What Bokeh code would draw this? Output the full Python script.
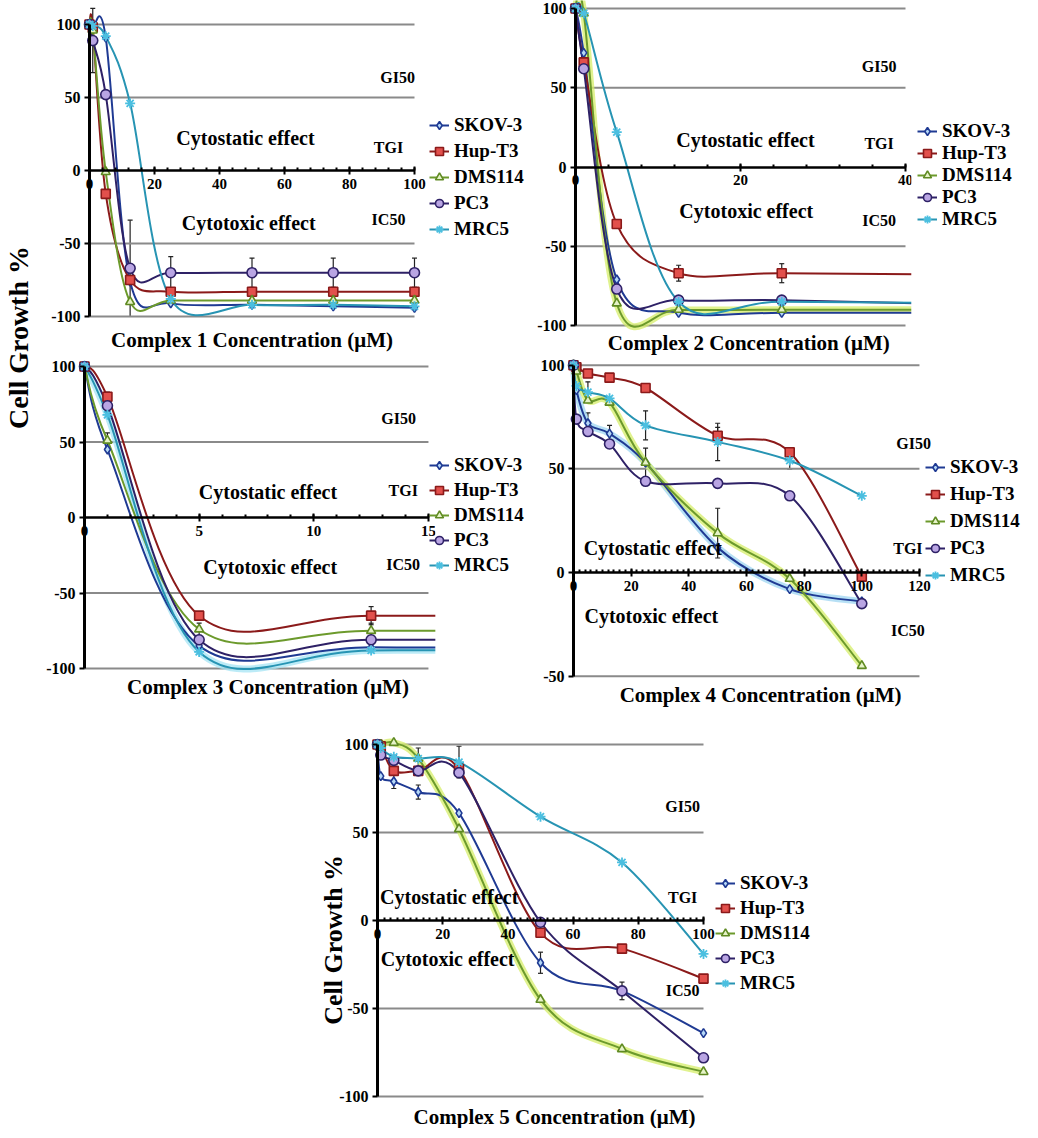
import numpy as np
from bokeh.plotting import figure
from bokeh.models import (Range1d, Label, Legend, LegendItem, SingleIntervalTicker,
                          FixedTicker, Whisker, TeeHead, ColumnDataSource, Spacer, BoxAnnotation)
from bokeh.layouts import row, column
from bokeh.embed import file_html
from bokeh.resources import INLINE

FONT = "Liberation Serif"

# ---------------- data ----------------
conc = [0, 1, 5, 12.5, 25, 50, 75, 100]
series_names = ["SKOV-3", "Hup-T3", "DMS114", "PC3", "MRC5"]

# Complex 1
c1_skov3 = [100, 98, 91, -76, -91, -92, -93, -94]
c1_hupt3 = [100, 98, -16, -75, -83, -83, -83, -83]
c1_dms114 = [100, 96, -1, -90, -89, -89, -89, -89]
c1_pc3 = [100, 89, 52, -67, -70, -70, -70, -70]
c1_mrc5 = [100, 99, 92, 46, -88, -92, -92, -93]
c1_pc3_err = [0, 22, 0, 33, 11, 10, 10, 10]

# Complex 2
c2_skov3 = [100, 72, -71, -92, -92, -92, -92, -92]
c2_hupt3 = [100, 66, -36, -67, -67, -68, -68, -68]
c2_dms114 = [100, 97, -86, -90, -90, -90, -90, -90]
c2_pc3 = [100, 62, -77, -84, -84, -87, -88, -88]
c2_mrc5 = [100, 97, 22, -85, -85, -86, -87, -87]
c2_hupt3_err = [0, 0, 0, 5, 6, 0, 0, 0]

# Complex 3
c3_skov3 = [100, 45, -85, -86, -86, -86, -86, -86]
c3_hupt3 = [100, 80, -65, -65, -65, -65, -65, -65]
c3_dms114 = [100, 51, -74, -75, -75, -75, -75, -75]
c3_pc3 = [100, 74, -81, -81, -81, -81, -81, -81]
c3_mrc5 = [100, 68, -89, -88, -88, -88, -88, -88]
c3_hupt3_err = [0, 3, 0, 6, 0, 0, 0, 0]
c3_dms114_err = [0, 5, 4, 5, 0, 0, 0, 0]

# Complex 4
c4_skov3 = [100, 88, 72, 67, 53, 12, -8, -14]
c4_hupt3 = [100, 99, 96, 94, 89, 66, 58, -2]
c4_dms114 = [100, 97, 83, 82, 53, 19, -3, -45]
c4_pc3 = [100, 74, 68, 62, 44, 43, 37, -15]
c4_mrc5 = [100, 90, 87, 84, 71, 63, 54, 37]
c4_mrc5_err = [0, 0, 5, 0, 7, 9, 4, 0]
c4_skov3_err = [0, 0, 5, 4, 0, 0, 0, 0]
c4_dms114_err = [0, 0, 0, 0, 7, 12, 0, 0]
c4_hupt3_err = [0, 0, 0, 0, 0, 4, 0, 0]

# Complex 5
c5_skov3 = [100, 82, 79, 73, 61, -24, -40, -64]
c5_hupt3 = [100, 99, 85, 85, 86, -7, -16, -33]
c5_dms114 = [100, 100, 101, 92, 52, -45, -73, -86]
c5_pc3 = [100, 94, 91, 85, 84, -1, -40, -78]
c5_mrc5 = [100, 98, 93, 92, 90, 59, 33, -19]
c5_skov3_err = [0, 0, 4, 4, 0, 6, 5, 0]
c5_mrc5_err = [0, 0, 0, 6, 9, 0, 0, 0]

ylim_full = (-100, 100)
ylim_c4 = (-50, 100)
yticks_full = [-100, -50, 0, 50, 100]
yticks_c4 = [-50, 0, 50, 100]

# ---------------- styles ----------------
STYLE = {
    "SKOV-3": dict(line="#1f3a93", marker="diamond", fill="#b5d8f7", edge="#1f3a93", size=9),
    "Hup-T3": dict(line="#8b1a1a", marker="square", fill="#e2504c", edge="#8b1a1a", size=9),
    "DMS114": dict(line="#6c9a2c", marker="triangle", fill="#e6f3c8", edge="#5f8a22", size=9),
    "PC3": dict(line="#2e2166", marker="circle", fill="#b9a5e3", edge="#2e2166", size=10),
    "MRC5": dict(line="#2794b3", marker="asterisk", fill="#4bbfe0", edge="#4bbfe0", size=10),
}
GLOW = {"SKOV-3": "#9fd6f2", "DMS114": "#d6ee6a", "MRC5": "#a6e4f4"}


def bezier_source(xs, ys):
    xs = np.asarray(xs, float)
    ys = np.asarray(ys, float)
    x0, y0, x1, y1 = xs[:-1], ys[:-1], xs[1:], ys[1:]
    xp = np.concatenate([[xs[0]], xs[:-2]])
    yp = np.concatenate([[ys[0]], ys[:-2]])
    xn = np.concatenate([xs[2:], [xs[-1]]])
    yn = np.concatenate([ys[2:], [ys[-1]]])
    return ColumnDataSource(dict(
        x0=x0, y0=y0, x1=x1, y1=y1,
        cx0=x0 + (x1 - xp) / 6.0, cy0=y0 + (y1 - yp) / 6.0,
        cx1=x1 - (xn - x0) / 6.0, cy1=y1 - (yn - y0) / 6.0))


def text_label(p, x, y, text, size, angle=0.0):
    p.add_layout(Label(x=x, y=y, text=text, text_font=FONT, text_font_style="bold",
                       text_font_size=size, text_align="center", text_baseline="middle",
                       text_color="black", angle=angle))


def make_panel(values, errs, glows, geom, xbounds, ybounds, xint, xminor, yticks,
               ann, title, title_xy, leg, mask_from=None):
    # geom: figure box (left, top, width, height) and where data 0 sits with px/unit
    L, T, W, H, X0, sx, Y0, sy = geom
    xr = ((L - X0) / sx, (L + W - X0) / sx)
    yr = ((Y0 - (T + H)) / sy, (Y0 - T) / sy)
    p = figure(width=W, height=H, x_range=Range1d(*xr), y_range=Range1d(*yr),
               output_backend="svg", toolbar_location=None, tools="",
               min_border_left=0, min_border_right=0, min_border_top=0, min_border_bottom=0)
    p.outline_line_color = None
    p.background_fill_color = "white"
    p.border_fill_color = "white"
    p.grid.visible = False

    # horizontal grid lines between the axis bounds
    gy = [t for t in yticks if t != 0]
    p.segment(x0=[xbounds[0]] * len(gy), x1=[xbounds[1]] * len(gy), y0=gy, y1=gy,
              line_color="#8a8a8a", line_width=2)

    p.xaxis.fixed_location = 0
    p.xaxis.bounds = xbounds
    p.xaxis.ticker = SingleIntervalTicker(interval=xint, num_minor_ticks=xminor)
    p.xaxis.axis_line_width = 2.5
    p.xaxis.axis_line_color = "black"
    p.xaxis.major_tick_line_width = 2
    p.xaxis.major_tick_in = 4
    p.xaxis.major_tick_out = 4
    p.xaxis.minor_tick_line_width = 2
    p.xaxis.minor_tick_in = 3
    p.xaxis.minor_tick_out = 0
    p.xaxis.major_label_standoff = 4
    p.xaxis.major_label_text_font = FONT
    p.xaxis.major_label_text_font_style = "bold"
    p.xaxis.major_label_text_font_size = "15px"
    p.xaxis.major_label_text_color = "black"

    p.yaxis.fixed_location = 0
    p.yaxis.bounds = ybounds
    p.yaxis.ticker = FixedTicker(ticks=yticks)
    p.yaxis.major_label_overrides = {t: str(t) for t in yticks}
    p.yaxis.axis_line_width = 3
    p.yaxis.axis_line_color = "black"
    p.yaxis.major_tick_line_width = 2
    p.yaxis.major_tick_in = 0
    p.yaxis.major_tick_out = 5
    p.yaxis.minor_tick_line_color = None
    p.yaxis.major_label_standoff = 4
    p.yaxis.major_label_text_font = FONT
    p.yaxis.major_label_text_font_style = "bold"
    p.yaxis.major_label_text_font_size = "16px"
    p.yaxis.major_label_text_color = "black"

    items = []
    for name in glows:
        p.bezier(x0="x0", y0="y0", x1="x1", y1="y1", cx0="cx0", cy0="cy0", cx1="cx1", cy1="cy1",
                 source=bezier_source(conc, values[name]), line_color=GLOW[name],
                 line_width=7, line_alpha=0.75)
    for name in series_names:
        st = STYLE[name]
        p.bezier(x0="x0", y0="y0", x1="x1", y1="y1", cx0="cx0", cy0="cy0", cx1="cx1", cy1="cy1",
                 source=bezier_source(conc, values[name]), line_color=st["line"], line_width=2)
    for name in series_names:
        if name in errs:
            e = np.asarray(errs[name], float)
            yv = np.asarray(values[name], float)
            m = e > 0
            src = ColumnDataSource(dict(x=np.asarray(conc, float)[m], u=(yv + e)[m], l=(yv - e)[m]))
            p.add_layout(Whisker(base="x", upper="u", lower="l", source=src,
                                 line_color="#222222", line_width=1.2,
                                 upper_head=TeeHead(size=5, line_color="#222222", line_width=1.2),
                                 lower_head=TeeHead(size=5, line_color="#222222", line_width=1.2)))
    for name in series_names:
        st = STYLE[name]
        # legend-only line sample (NaN data draws nothing in the plot)
        lr = p.line(x=[np.nan], y=[np.nan], line_color=st["line"], line_width=2)
        if st["marker"] == "asterisk":
            sr = p.scatter(x=conc, y=values[name], marker="asterisk", size=st["size"],
                           line_color=st["edge"], line_width=1.8)
        else:
            sr = p.scatter(x=conc, y=values[name], marker=st["marker"], size=st["size"],
                           fill_color=st["fill"], line_color=st["edge"], line_width=1.6)
        items.append(LegendItem(label=name, renderers=[lr, sr]))

    if mask_from is not None:
        # the axis ends here: hide curve parts beyond it
        p.add_layout(BoxAnnotation(left=mask_from, fill_color="white", fill_alpha=1.0,
                                   line_alpha=0, level="guide"))

    loc, spacing, item_h, font = leg
    lg = Legend(items=items, location=loc, spacing=spacing, padding=0, margin=0,
                glyph_width=20, glyph_height=item_h, label_height=item_h, label_standoff=5,
                label_text_font=FONT, label_text_font_style="bold",
                label_text_font_size=font, label_text_color="black",
                border_line_color=None, background_fill_alpha=0)
    p.add_layout(lg)

    for (x, y, t, s) in ann:
        text_label(p, x, y, t, s)
    text_label(p, title_xy[0], title_xy[1], title, "21px")
    return p


def vals(a, b, c, d, e):
    return dict(zip(series_names, [a, b, c, d, e]))


def ann_set(gi, tgi, ic, cs, ct):
    return [(gi[0], gi[1], "GI50", "16px"), (tgi[0], tgi[1], "TGI", "16px"),
            (ic[0], ic[1], "IC50", "16px"), (cs[0], cs[1], "Cytostatic effect", "20px"),
            (ct[0], ct[1], "Cytotoxic effect", "20px")]


p1 = make_panel(vals(c1_skov3, c1_hupt3, c1_dms114, c1_pc3, c1_mrc5), {"PC3": c1_pc3_err}, [],
                (50, 8, 490, 358, 97, 3.25, 178, 1.46),
                (0, 100), ylim_full, 20, 5, yticks_full,
                ann_set((94.8, 64), (92, 15.7), (92, -33.5), (48, 22.6), (49, -36)),
                "Complex 1 Concentration (\u03bcM)", (50, -116.4),
                ((387, 117), 2, 24, "19px"))

p2 = make_panel(vals(c2_skov3, c2_hupt3, c2_dms114, c2_pc3, c2_mrc5), {"Hup-T3": c2_hupt3_err},
                ["DMS114"],
                (540, 8, 490, 358, 583, 8.25, 174.5, 1.585),
                (0, 40), ylim_full, 20, 5, yticks_full,
                ann_set((36.8, 63.7), (36.8, 15), (36.8, -34), (20.6, 17), (20.7, -27.8)),
                "Complex 2 Concentration (\u03bcM)", (21, -111),
                ((385, 128), 0, 22, "19px"), mask_from=40.7)

p3 = make_panel(vals(c3_skov3, c3_hupt3, c3_dms114, c3_pc3, c3_mrc5),
                {"Hup-T3": c3_hupt3_err, "DMS114": c3_dms114_err}, ["MRC5"],
                (50, 366, 490, 352, 92, 22.93, 525, 1.51),
                (0, 15), ylim_full, 5, 5, yticks_full,
                ann_set((13.7, 65.6), (13.9, 17.9), (13.9, -31), (8.0, 17.2), (8.1, -32.5)),
                "Complex 3 Concentration (\u03bcM)", (8.0, -112),
                ((387, 133), 1, 24, "19px"), mask_from=15.3)

p4 = make_panel(vals(c4_skov3, c4_hupt3, c4_dms114, c4_pc3, c4_mrc5),
                {"MRC5": c4_mrc5_err, "SKOV-3": c4_skov3_err, "DMS114": c4_dms114_err,
                 "Hup-T3": c4_hupt3_err}, ["SKOV-3", "DMS114"],
                (540, 366, 490, 352, 581, 2.883, 580, 2.073),
                (0, 120), ylim_c4, 20, 10, yticks_c4,
                ann_set((118, 62), (116, 11.6), (116, -28), (27.5, 12), (27, -20.8)),
                "Complex 4 Concentration (\u03bcM)", (64.9, -58.9),
                ((393, 123), 3, 24, "19px"))

p5 = make_panel(vals(c5_skov3, c5_hupt3, c5_dms114, c5_pc3, c5_mrc5),
                {"SKOV-3": c5_skov3_err, "MRC5": c5_mrc5_err}, ["DMS114"],
                (300, 718, 530, 418, 385, 3.26, 928, 1.76),
                (0, 100), ylim_full, 20, 10, yticks_full,
                ann_set((93.6, 65), (93.6, 13), (93.6, -40), (22, 13.6), (21.5, -22)),
                "Complex 5 Concentration (\u03bcM)", (54.3, -111.4),
                ((423, 133), 1, 24, "19px"))
text_label(p5, -13.5, -11, "Cell Growth %", "26px", angle=np.pi / 2)

# global y label for the upper four panels
plab = figure(width=42, height=710, x_range=Range1d(0, 42), y_range=Range1d(0, 710),
              x_axis_location=None, y_axis_location=None, output_backend="svg",
              toolbar_location=None, tools="", min_border=0)
plab.outline_line_color = None
plab.grid.visible = False
text_label(plab, 18, 373, "Cell Growth %", "28px", angle=np.pi / 2)

layout = column(
    row(plab, column(row(p1, p2), row(p3, p4))),
    row(Spacer(width=292, height=418), p5),
)

open("out.html", "w").write(file_html(layout, INLINE, title="Cell growth"))
